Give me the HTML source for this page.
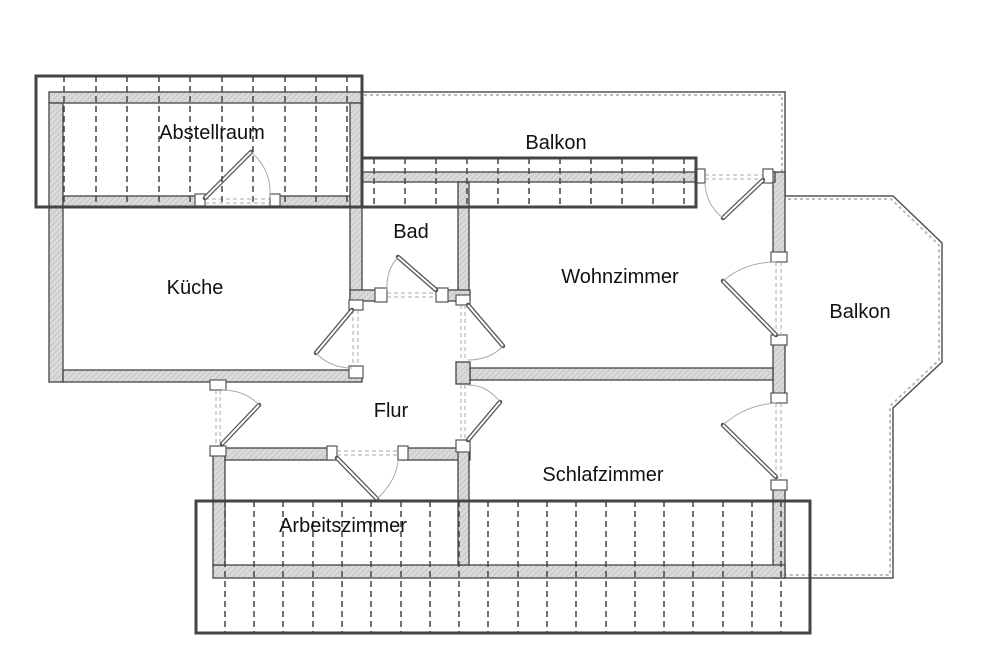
<!DOCTYPE html>
<html><head><meta charset="utf-8"><style>
html,body{margin:0;padding:0;background:#fff;}
svg{display:block}
text{font-family:"Liberation Sans",sans-serif;font-size:20px;fill:#111}
</style></head><body>
<svg width="1000" height="659" viewBox="0 0 1000 659" xmlns="http://www.w3.org/2000/svg">
<defs>
<pattern id="h" width="4" height="4" patternUnits="userSpaceOnUse" patternTransform="rotate(45)">
<rect width="4" height="4" fill="#dadada"/><line x1="0" y1="0" x2="0" y2="4" stroke="#b0b0b0" stroke-width="1"/>
</pattern>
</defs>
<polyline points="362,92 785,92 785,196 893,196 942,243 942,362 893,408 893,578 785,578" fill="none" stroke="#555" stroke-width="1.5"/>
<polyline points="364,95 782,95 782,199 891,199 939,245 939,360 890,406 890,575 785,575" fill="none" stroke="#bbb" stroke-width="2" stroke-dasharray="3 3"/>

<g fill="url(#h)" stroke="#444" stroke-width="1.3">
<rect x="49" y="92" width="313" height="11"/>
<rect x="49" y="103" width="14" height="279"/>
<rect x="63" y="196" width="137" height="11"/>
<rect x="275" y="196" width="87" height="11"/>
<rect x="350" y="103" width="12" height="197"/>
<rect x="63" y="370" width="299" height="12"/>
<rect x="350" y="290" width="35" height="11"/>
<rect x="362" y="172" width="336" height="10"/>
<rect x="458" y="182" width="11" height="118"/>
<rect x="440" y="290" width="30" height="11"/>
<rect x="773" y="172" width="12" height="88"/>
<rect x="765" y="172" width="10" height="10"/>
<rect x="773" y="340" width="12" height="58"/>
<rect x="470" y="368" width="303" height="12"/>
<rect x="456" y="362" width="14" height="22"/>
<rect x="773" y="485" width="12" height="93"/>
<rect x="213" y="565" width="572" height="13"/>
<rect x="213" y="448" width="12" height="117"/>
<rect x="225" y="448" width="110" height="12"/>
<rect x="400" y="448" width="70" height="12"/>
<rect x="458" y="448" width="11" height="117"/>
</g>
<g fill="#fff" stroke="#555" stroke-width="1.2">
<rect x="195" y="194" width="10" height="12"/><rect x="270" y="194" width="10" height="12"/>
<rect x="349" y="300" width="14" height="10"/><rect x="349" y="366" width="14" height="12"/>
<rect x="375" y="288" width="12" height="14"/><rect x="436" y="288" width="12" height="14"/>
<rect x="456" y="295" width="14" height="10"/><rect x="456" y="440" width="14" height="12"/>
<rect x="210" y="380" width="16" height="10"/><rect x="210" y="446" width="16" height="10"/>
<rect x="327" y="446" width="10" height="14"/><rect x="398" y="446" width="10" height="14"/>
<rect x="695" y="169" width="10" height="14"/><rect x="763" y="169" width="10" height="14"/>
<rect x="771" y="252" width="16" height="10"/><rect x="771" y="335" width="16" height="10"/>
<rect x="771" y="393" width="16" height="10"/><rect x="771" y="480" width="16" height="10"/>
</g>
<g stroke="#aaa" stroke-width="1" fill="none" stroke-dasharray="4 3">
<line x1="205" y1="199" x2="270" y2="199"/><line x1="205" y1="203" x2="270" y2="203"/>
<line x1="353" y1="310" x2="353" y2="366"/><line x1="358" y1="310" x2="358" y2="366"/>
<line x1="387" y1="293" x2="436" y2="293"/><line x1="387" y1="297" x2="436" y2="297"/>
<line x1="461" y1="305" x2="461" y2="360"/><line x1="465" y1="305" x2="465" y2="360"/>
<line x1="461" y1="385" x2="461" y2="440"/><line x1="465" y1="385" x2="465" y2="440"/>
<line x1="216" y1="390" x2="216" y2="446"/><line x1="220" y1="390" x2="220" y2="446"/>
<line x1="337" y1="451" x2="398" y2="451"/><line x1="337" y1="455" x2="398" y2="455"/>
<line x1="705" y1="175" x2="763" y2="175"/><line x1="705" y1="179" x2="763" y2="179"/>
<line x1="776" y1="262" x2="776" y2="335"/><line x1="781" y1="262" x2="781" y2="335"/>
<line x1="776" y1="403" x2="776" y2="480"/><line x1="781" y1="403" x2="781" y2="480"/>
</g>
<g id="leaves" stroke="#555" stroke-width="4.5" fill="none" stroke-linecap="round">
<line x1="205" y1="198" x2="251" y2="152"/>
<line x1="352" y1="310" x2="316" y2="353"/>
<line x1="436" y1="290" x2="398" y2="257"/>
<line x1="468" y1="305" x2="503" y2="346"/>
<line x1="468" y1="440" x2="500" y2="402"/>
<line x1="222" y1="444" x2="259" y2="405"/>
<line x1="337" y1="458" x2="377" y2="499"/>
<line x1="763" y1="180" x2="723" y2="218"/>
<line x1="776" y1="335" x2="723" y2="281"/>
<line x1="776" y1="477" x2="723" y2="425"/>
</g>
<g stroke="#fff" stroke-width="2" fill="none">
<line x1="205" y1="198" x2="251" y2="152"/>
<line x1="352" y1="310" x2="316" y2="353"/>
<line x1="436" y1="290" x2="398" y2="257"/>
<line x1="468" y1="305" x2="503" y2="346"/>
<line x1="468" y1="440" x2="500" y2="402"/>
<line x1="222" y1="444" x2="259" y2="405"/>
<line x1="337" y1="458" x2="377" y2="499"/>
<line x1="763" y1="180" x2="723" y2="218"/>
<line x1="776" y1="335" x2="723" y2="281"/>
<line x1="776" y1="477" x2="723" y2="425"/>
</g>
<g stroke="#aaa" stroke-width="1" fill="none">
<path d="M251,152 Q272,170 270,198"/>
<path d="M316,353 Q330,368 352,368"/>
<path d="M398,257 Q386,270 387,290"/>
<path d="M503,346 Q490,360 468,360"/>
<path d="M500,402 Q487,385 468,385"/>
<path d="M259,405 Q245,390 222,390"/>
<path d="M377,499 Q397,480 398,460"/>
<path d="M723,218 Q706,205 705,183"/>
<path d="M723,281 Q745,262 776,262"/>
<path d="M723,425 Q745,405 776,403"/>
</g>
<g stroke="#444" stroke-width="1.5" stroke-dasharray="6 4" fill="none">
<path d="M64,76V207M96,76V207M127,76V207M159,76V207M190,76V207M222,76V207M253,76V207M285,76V207M316,76V207M347,76V207"/>
<path d="M374,158V207M405,158V207M436,158V207M467,158V207M498,158V207M529,158V207M560,158V207M591,158V207M622,158V207M653,158V207M684,158V207"/>
<path d="M225,501V633M254,501V633M283,501V633M313,501V633M342,501V633M371,501V633M401,501V633M430,501V633M459,501V633M488,501V633M518,501V633M547,501V633M576,501V633M606,501V633M635,501V633M664,501V633M693,501V633M723,501V633M752,501V633M781,501V633"/>
</g>
<g fill="none" stroke="#444">
<rect x="36" y="76" width="326" height="131" stroke-width="3"/>
<rect x="362" y="158" width="334" height="49" stroke-width="3"/>
<rect x="196" y="501" width="614" height="132" stroke-width="3"/>
</g>
<text x="212" y="139" text-anchor="middle">Abstellraum</text>
<text x="556" y="149" text-anchor="middle">Balkon</text>
<text x="411" y="238" text-anchor="middle">Bad</text>
<text x="195" y="294" text-anchor="middle">Küche</text>
<text x="620" y="283" text-anchor="middle">Wohnzimmer</text>
<text x="860" y="318" text-anchor="middle">Balkon</text>
<text x="391" y="417" text-anchor="middle">Flur</text>
<text x="603" y="481" text-anchor="middle">Schlafzimmer</text>
<text x="343" y="532" text-anchor="middle">Arbeitszimmer</text>
</svg>
</body></html>
